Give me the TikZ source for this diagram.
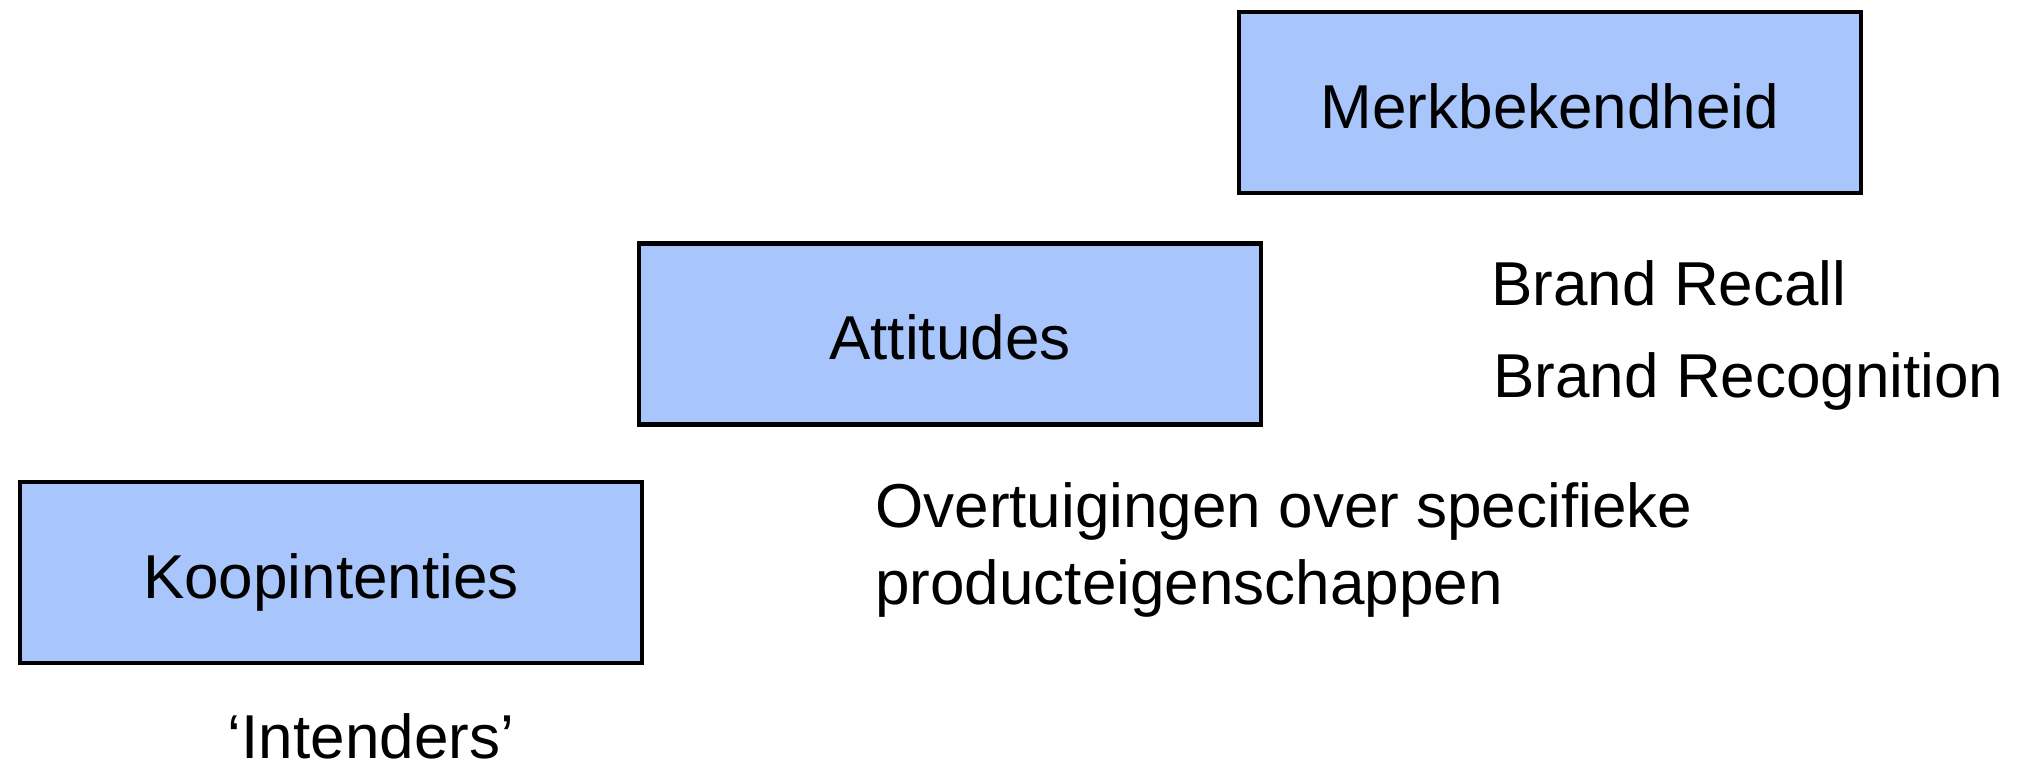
\documentclass[tikz,border=0pt]{standalone}
\usepackage{fontspec}
\setmainfont{Liberation Sans}
\definecolor{boxblue}{RGB}{168,197,252}
\begin{document}
\begin{tikzpicture}[x=0.5pt,y=-0.5pt,
  stagebox/.style={draw=black,line width=2.3pt,fill=boxblue,minimum width=311pt,minimum height=90.5pt,inner sep=0pt,font=\fontsize{31}{38}\selectfont,text height=26pt,text depth=0pt},
  lbl/.style={inner sep=0pt,font=\fontsize{31}{38}\selectfont}]
\useasboundingbox (0,0) rectangle (2036,773);
\node[stagebox] (merk) at (1550,102.6) {Merkbekendheid};
\node[stagebox] (att) at (950,333.8) {Attitudes};
\node[stagebox] (koop) at (331,572.6) {Koopintenties};
\node[lbl,anchor=base west] (recall) at (1491,305) {Brand Recall};
\node[lbl,anchor=base west] (recog) at (1493,397) {Brand Recognition};
\node[lbl,anchor=base west] (ovt1) at (875,527) {Overtuigingen over specifieke};
\node[lbl,anchor=base west] (ovt2) at (875,604) {producteigenschappen};
\node[lbl,anchor=base] (intend) at (371,758) {‘Intenders’};
\end{tikzpicture}
\end{document}
